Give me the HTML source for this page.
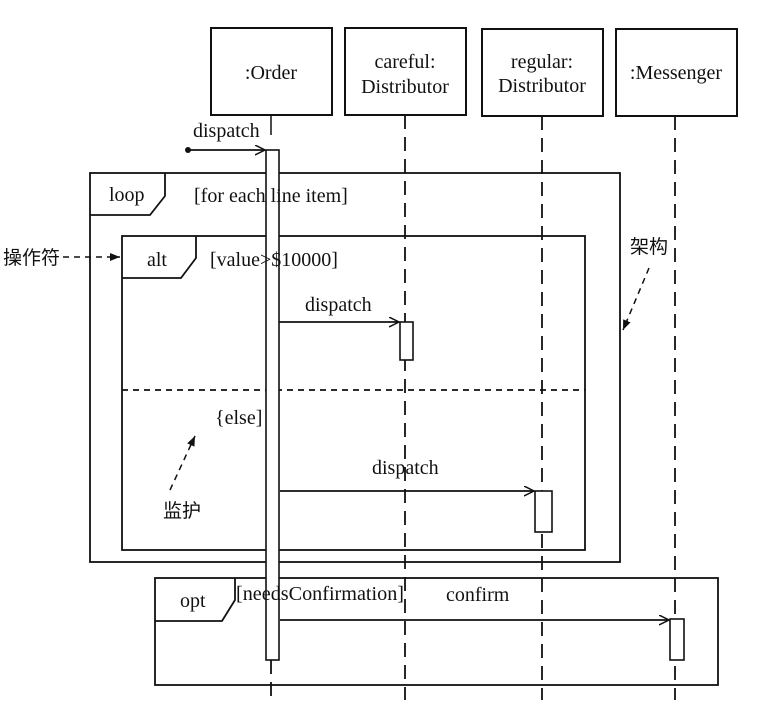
<!DOCTYPE html>
<html><head><meta charset="utf-8"><style>
html,body{margin:0;padding:0;background:#fff;}
svg text{font-family:"Liberation Serif","Noto Serif CJK SC",serif;font-size:20px;fill:#111;}
</style></head><body>
<svg width="777" height="706" viewBox="0 0 777 706" xmlns="http://www.w3.org/2000/svg">
<defs>
<marker id="oa" markerWidth="12" markerHeight="12" refX="10" refY="5" orient="auto" markerUnits="userSpaceOnUse"><path d="M0,0 L10,5 L0,10" fill="none" stroke="#111" stroke-width="1.5"/></marker>
<marker id="fa" markerWidth="12" markerHeight="12" refX="10" refY="4" orient="auto" markerUnits="userSpaceOnUse"><path d="M0,0 L10,4 L0,8 z" fill="#111"/></marker>
</defs>
<g stroke="#111" stroke-width="2" fill="none">
<rect x="211" y="28" width="121" height="87"/>
<rect x="345" y="28" width="121" height="87"/>
<rect x="482" y="29" width="121" height="87"/>
<rect x="616" y="29" width="121" height="87"/>
</g>
<g stroke="#111" stroke-width="1.8" stroke-dasharray="14,8" fill="none">
<line x1="405" y1="115" x2="405" y2="700"/>
<line x1="542" y1="116" x2="542" y2="700"/>
<line x1="675" y1="116" x2="675" y2="700"/>
<line x1="271" y1="660" x2="271" y2="700"/>
</g>
<line x1="271" y1="115" x2="271" y2="135" stroke="#111" stroke-width="1.5"/>
<g stroke="#111" stroke-width="1.8" fill="none">
<rect x="90" y="173" width="530" height="389"/>
<path d="M90,215 H150 L165,196 V173"/>
<rect x="122" y="236" width="463" height="314"/>
<path d="M122,278 H181 L196,258 V236"/>
<line x1="122" y1="390" x2="585" y2="390" stroke-dasharray="6,5"/>
<rect x="155" y="578" width="563" height="107"/>
<path d="M155,621 H222 L235,600 V578"/>
</g>
<g stroke="#111" stroke-width="1.6" fill="#fff">
<rect x="266" y="150" width="13" height="510"/>
<rect x="400" y="322" width="13" height="38"/>
<rect x="535" y="491" width="17" height="41"/>
<rect x="670" y="619" width="14" height="41"/>
</g>
<g stroke="#111" stroke-width="1.8" fill="none">
<line x1="188" y1="150" x2="265" y2="150" marker-end="url(#oa)"/>
<line x1="279" y1="322" x2="399" y2="322" marker-end="url(#oa)"/>
<line x1="280" y1="491" x2="534" y2="491" marker-end="url(#oa)"/>
<line x1="280" y1="620" x2="669" y2="620" marker-end="url(#oa)"/>
</g>
<circle cx="188" cy="150" r="3" fill="#111"/>
<g stroke="#111" stroke-width="1.5" stroke-dasharray="6,5" fill="none">
<line x1="63" y1="257" x2="120" y2="257" marker-end="url(#fa)"/>
<line x1="170" y1="490" x2="195" y2="436" marker-end="url(#fa)"/>
<line x1="649" y1="268" x2="623" y2="330" marker-end="url(#fa)"/>
</g>
<text x="271" y="79" text-anchor="middle">:Order</text>
<text x="405" y="68" text-anchor="middle">careful:</text>
<text x="405" y="93" text-anchor="middle">Distributor</text>
<text x="542" y="68" text-anchor="middle">regular:</text>
<text x="542" y="92" text-anchor="middle">Distributor</text>
<text x="676" y="79" text-anchor="middle">:Messenger</text>
<text x="193" y="137">dispatch</text>
<text x="109" y="201">loop</text>
<text x="194" y="202">[for each line item]</text>
<text x="147" y="266">alt</text>
<text x="210" y="266">[value&gt;$10000]</text>
<text x="305" y="311">dispatch</text>
<text x="215" y="424">{else]</text>
<text x="372" y="474">dispatch</text>
<text x="180" y="607">opt</text>
<text x="236" y="600" textLength="168" lengthAdjust="spacingAndGlyphs">[needsConfirmation]</text>
<text x="446" y="601">confirm</text>
<text x="3" y="264" style="font-family:'Noto Sans CJK SC',sans-serif;font-size:19px">操作符</text>
<text x="630" y="253" style="font-family:'Noto Sans CJK SC',sans-serif;font-size:19px">架构</text>
<text x="163" y="517" style="font-family:'Noto Sans CJK SC',sans-serif;font-size:19px">监护</text>
</svg>
</body></html>
